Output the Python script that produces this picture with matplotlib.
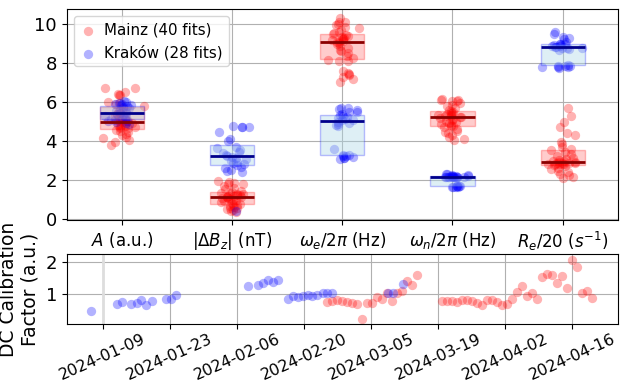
import numpy as np
import pandas as pd
import matplotlib
matplotlib.use('Agg')
import matplotlib.pyplot as plt

# parameter categories (top panel)
labels = ['$A$ (a.u.)', r'$|\Delta B_z|$ (nT)', r'$\omega_e/2\pi$ (Hz)',
          r'$\omega_n/2\pi$ (Hz)', r'$R_e/20$ ($s^{-1}$)']

# Mainz fits (40 per parameter)
mainz_A = [6.74, 6.71, 6.54, 6.40, 6.37, 6.36, 6.02, 5.95, 5.88, 5.80,
           5.70, 5.55, 5.45, 5.38, 5.30, 5.22, 5.15, 5.10, 5.04, 5.00,
           4.96, 4.92, 4.88, 4.85, 4.80, 4.77, 4.74, 4.70, 4.67, 4.65,
           4.58, 4.50, 4.45, 4.38, 4.30, 4.22, 4.15, 4.06, 3.95, 3.80]
mainz_dB = [1.95, 1.90, 1.85, 1.80, 1.78, 1.70, 1.60, 1.52, 1.45, 1.40,
            1.36, 1.33, 1.30, 1.27, 1.24, 1.21, 1.19, 1.17, 1.15, 1.14,
            1.12, 1.10, 1.07, 1.04, 1.00, 0.96, 0.92, 0.88, 0.83, 0.78,
            0.74, 0.70, 0.66, 0.62, 0.58, 0.55, 0.51, 0.47, 0.43, 0.38]
mainz_we = [10.31, 10.13, 10.10, 10.00, 9.96, 9.85, 9.80, 9.70, 9.62, 9.55,
            9.48, 9.42, 9.38, 9.34, 9.30, 9.26, 9.22, 9.18, 9.15, 9.12,
            9.10, 9.05, 8.98, 8.90, 8.80, 8.70, 8.60, 8.50, 8.38, 8.25,
            8.15, 8.12, 8.10, 7.60, 7.48, 7.45, 7.40, 7.31, 7.20, 7.05]
mainz_wn = [6.15, 6.13, 6.11, 6.08, 6.05, 5.95, 5.85, 5.80, 5.70, 5.60,
            5.52, 5.48, 5.45, 5.42, 5.38, 5.35, 5.32, 5.30, 5.28, 5.26,
            5.24, 5.20, 5.15, 5.10, 5.05, 5.00, 4.95, 4.90, 4.85, 4.80,
            4.75, 4.70, 4.62, 4.54, 4.48, 4.40, 4.30, 4.20, 4.10, 4.04]
mainz_Re = [5.68, 5.31, 5.00, 4.74, 4.40, 4.31, 3.97, 3.85, 3.72, 3.62,
            3.55, 3.45, 3.35, 3.25, 3.15, 3.08, 3.02, 2.99, 2.96, 2.94,
            2.92, 2.90, 2.88, 2.87, 2.86, 2.85, 2.83, 2.82, 2.81, 2.80,
            2.76, 2.70, 2.62, 2.55, 2.48, 2.40, 2.33, 2.26, 2.15, 2.09]

# Krakow fits (28 per parameter)
krakow_A = [6.06, 6.02, 5.98, 5.92, 5.88, 5.86, 5.84,
            5.80, 5.74, 5.68, 5.62, 5.56, 5.50, 5.46,
            5.43, 5.38, 5.33, 5.28, 5.24, 5.20, 5.15,
            5.12, 5.08, 5.05, 5.02, 4.98, 4.95, 4.90]
krakow_dB = [4.75, 4.73, 4.71, 4.70, 4.45, 4.09, 4.01,
             3.72, 3.65, 3.55, 3.45, 3.38, 3.30, 3.24,
             3.18, 3.12, 3.06, 3.00, 2.95, 2.88, 2.80,
             2.75, 2.68, 2.60, 2.52, 2.45, 2.40, 0.43]
krakow_we = [5.70, 5.68, 5.63, 5.58, 5.51, 5.50, 5.40,
             5.32, 5.31, 5.25, 5.20, 5.15, 5.10, 5.08,
             5.00, 4.95, 4.90, 4.82, 4.79, 3.60, 3.30,
             3.28, 3.25, 3.22, 3.20, 3.15, 3.12, 3.10]
krakow_wn = [2.32, 2.30, 2.27, 2.24, 2.22, 2.20, 2.20,
             2.19, 2.19, 2.18, 2.18, 2.18, 2.17, 2.17,
             2.17, 2.16, 2.16, 2.15, 2.14, 2.12, 1.70,
             1.69, 1.68, 1.68, 1.67, 1.66, 1.66, 1.65]
krakow_Re = [9.62, 9.50, 9.36, 9.30, 9.24, 9.10, 9.00,
             8.99, 8.96, 8.94, 8.92, 8.90, 8.88, 8.85,
             8.82, 8.80, 8.78, 8.76, 8.74, 8.70, 7.92,
             7.88, 7.86, 7.84, 7.82, 7.80, 7.78, 7.74]

mainz = [mainz_A, mainz_dB, mainz_we, mainz_wn, mainz_Re]
krakow = [krakow_A, krakow_dB, krakow_we, krakow_wn, krakow_Re]

# DC calibration factor over time (bottom panel)
krakow_dates = ['2024-01-06 15:00', '2024-01-11 22:00', '2024-01-12 23:00', '2024-01-15 00:00',
                '2024-01-16 02:00', '2024-01-17 02:00', '2024-01-18 02:00', '2024-01-19 05:00',
                '2024-01-22 07:00', '2024-01-23 07:00', '2024-01-24 10:00', '2024-02-08 10:00',
                '2024-02-10 10:00', '2024-02-11 12:00', '2024-02-12 12:00', '2024-02-13 12:00',
                '2024-02-14 14:00', '2024-02-16 17:00', '2024-02-17 17:00', '2024-02-18 17:00',
                '2024-02-19 19:00', '2024-02-20 19:00', '2024-02-21 19:00', '2024-02-22 19:00',
                '2024-02-23 22:00', '2024-02-24 22:00', '2024-02-25 22:00', '2024-03-08 14:00',
                '2024-03-09 14:00', '2024-03-11 17:00']
krakow_cal = [0.47, 0.71, 0.76, 0.71, 0.72, 0.82, 0.66, 0.79, 0.87, 0.86,
              0.97, 1.26, 1.28, 1.37, 1.46, 1.38, 1.44, 0.87, 0.95, 0.92,
              0.94, 0.98, 0.96, 0.97, 1.06, 1.06, 1.03, 1.06, 1.06, 1.33]

mainz_dates = ['2024-02-24 22:00', '2024-02-25 22:00', '2024-02-27 00:00', '2024-02-28 00:00',
               '2024-02-29 02:00', '2024-03-01 02:00', '2024-03-02 02:00', '2024-03-03 05:00',
               '2024-03-04 05:00', '2024-03-05 07:00', '2024-03-06 07:00', '2024-03-07 07:00',
               '2024-03-08 10:00', '2024-03-09 10:00', '2024-03-10 12:00', '2024-03-11 12:00',
               '2024-03-12 12:00', '2024-03-13 14:00', '2024-03-14 14:00',
               '2024-03-19 19:00', '2024-03-20 22:00', '2024-03-21 22:00', '2024-03-22 22:00',
               '2024-03-24 00:00', '2024-03-25 00:00', '2024-03-26 00:00', '2024-03-27 02:00',
               '2024-03-28 02:00', '2024-03-29 05:00', '2024-03-30 05:00', '2024-03-31 05:00',
               '2024-04-01 07:00', '2024-04-02 07:00', '2024-04-03 10:00', '2024-04-04 10:00',
               '2024-04-05 10:00', '2024-04-06 14:00', '2024-04-07 14:00', '2024-04-08 14:00',
               '2024-04-09 17:00', '2024-04-10 17:00', '2024-04-11 19:00', '2024-04-12 19:00',
               '2024-04-13 19:00', '2024-04-14 22:00', '2024-04-15 22:00', '2024-04-17 00:00',
               '2024-04-18 00:00', '2024-04-19 00:00', '2024-04-20 02:00']
mainz_cal = [0.77, 0.80, 0.82, 0.78, 0.76, 0.72, 0.69, 0.24, 0.72, 0.73,
             0.93, 0.85, 1.06, 0.78, 1.03, 1.10, 1.43, 1.28, 1.60,
             0.79, 0.80, 0.81, 0.76, 0.84, 0.82, 0.80, 0.74, 0.67, 0.84,
             0.82, 0.76, 0.68, 0.69, 0.87, 1.07, 1.26, 0.94, 1.03, 0.87,
             1.53, 1.64, 1.60, 1.35, 1.57, 1.19, 2.08, 1.85, 1.05, 1.12, 0.88]

tick_dates = pd.date_range('2024-01-09', '2024-04-16', freq='14D')

fig = plt.figure(figsize=(6.2, 3.86), dpi=100)
ax = fig.add_axes([0.1075, 0.43, 0.889, 0.5467])
ax2 = fig.add_axes([0.1075, 0.16, 0.889, 0.181])

rng = np.random.default_rng(3)
pos = np.arange(len(labels))
w = 0.4
msize = 45

for i in pos:
    m = np.array(mainz[i])
    k = np.array(krakow[i])
    sm = ax.scatter(i + rng.normal(0, 0.06, len(m)), m, s=msize, color='red',
                    alpha=0.3, lw=0, zorder=2)
    sk = ax.scatter(i + rng.normal(0, 0.06, len(k)), k, s=msize, color='blue',
                    alpha=0.3, lw=0, zorder=2)
    for d, fc, ec, mc in [(m, (1, 0, 0, 0.2), (1, 0, 0, 0.25), 'darkred'),
                          (k, (0.678, 0.847, 0.902, 0.4), (0, 0, 1, 0.25), 'darkblue')]:
        q1, med, q3 = np.percentile(d, [25, 50, 75])
        ax.bar(i, q3 - q1, bottom=q1, width=w, facecolor=fc, edgecolor=ec,
               lw=1, zorder=3)
        ax.hlines(med, i - w / 2, i + w / 2, color=mc, lw=2, zorder=4)

ax.set_xticks(pos)
ax.set_xticklabels(labels, fontsize=12)
ax.set_xlim(-0.5, 4.5)
ax.set_ylim(-0.05, 10.78)
ax.set_yticks([0, 2, 4, 6, 8, 10])
ax.tick_params(axis='y', labelsize=13)
ax.grid(True)
ax.legend([sm, sk], ['Mainz (40 fits)', 'Kraków (28 fits)'], loc='upper left',
          fontsize=10.8, handlelength=1.0, handletextpad=0.6)

ax2.axvline(pd.Timestamp('2024-01-09'), color='#dddddd', lw=2, zorder=1.8)
ax2.scatter(pd.to_datetime(mainz_dates), mainz_cal, s=msize, color='red',
            alpha=0.3, lw=0, zorder=2)
ax2.scatter(pd.to_datetime(krakow_dates), krakow_cal, s=msize, color='blue',
            alpha=0.3, lw=0, zorder=2)
ax2.set_xticks(tick_dates)
ax2.set_xticklabels([d.strftime('%Y-%m-%d') for d in tick_dates],
                    rotation=24, fontsize=11.5)
ax2.tick_params(axis='x', pad=1.5)
ax2.set_xlim(pd.Timestamp('2024-01-01 12:00'), pd.Timestamp('2024-04-25 12:00'))
ax2.set_ylim(0.07, 2.25)
ax2.set_yticks([1, 2])
ax2.tick_params(axis='y', labelsize=13)
ax2.grid(True)
ax2.set_ylabel('DC Calibration\nFactor (a.u.)', fontsize=13.5)

fig.savefig('out.png', dpi=100)
